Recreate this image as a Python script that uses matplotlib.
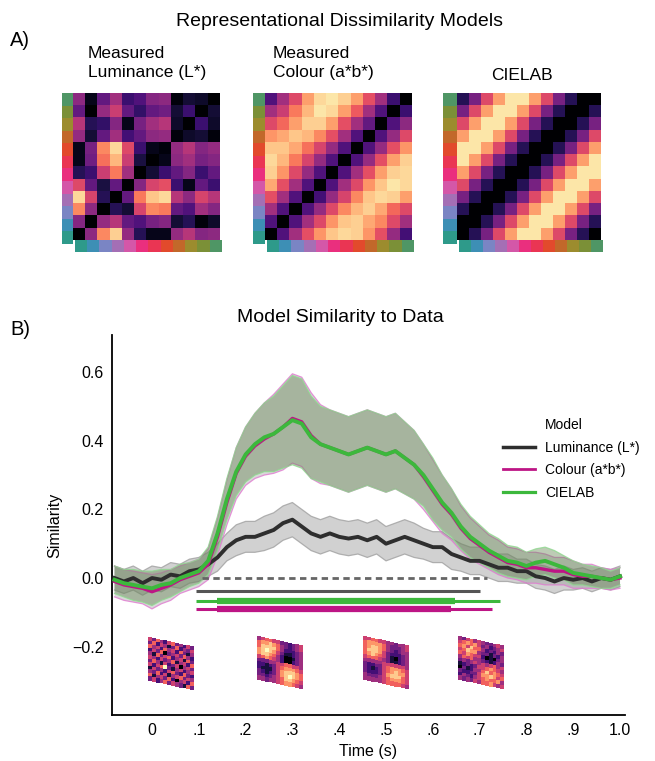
import numpy as np
import matplotlib
matplotlib.use("Agg")
import matplotlib.pyplot as plt
from matplotlib.lines import Line2D
from matplotlib.colors import to_rgb

plt.rcParams['font.family'] = ['Liberation Sans', 'DejaVu Sans']

# ---------------- data ----------------
hue_colors = ['#2e9a8a', '#3d8fb5', '#7a85c4', '#a46fb5', '#d457a8', '#ea2f7e',
              '#ea3553', '#e24a2c', '#c2682a', '#9c8c2e', '#7b9037', '#4f9665']

rdm_luminance = [
    [0.40, 0.05, 0.30, 0.45, 0.20, 0.25, 0.38, 0.40, 0.02, 0.10, 0.08, 0.00],
    [0.30, 0.00, 0.42, 0.55, 0.30, 0.18, 0.30, 0.33, 0.10, 0.20, 0.00, 0.10],
    [0.50, 0.15, 0.18, 0.38, 0.05, 0.35, 0.45, 0.50, 0.08, 0.00, 0.20, 0.08],
    [0.42, 0.10, 0.30, 0.45, 0.22, 0.30, 0.40, 0.42, 0.02, 0.08, 0.10, 0.02],
    [0.05, 0.35, 0.75, 0.92, 0.60, 0.20, 0.05, 0.02, 0.42, 0.50, 0.38, 0.42],
    [0.05, 0.33, 0.70, 0.85, 0.55, 0.12, 0.00, 0.05, 0.40, 0.45, 0.35, 0.38],
    [0.15, 0.20, 0.55, 0.72, 0.45, 0.00, 0.10, 0.20, 0.30, 0.38, 0.20, 0.30],
    [0.60, 0.30, 0.12, 0.30, 0.00, 0.38, 0.58, 0.62, 0.20, 0.05, 0.30, 0.20],
    [0.92, 0.58, 0.15, 0.00, 0.30, 0.72, 0.88, 0.92, 0.50, 0.40, 0.58, 0.50],
    [0.75, 0.40, 0.00, 0.15, 0.10, 0.58, 0.75, 0.72, 0.30, 0.25, 0.45, 0.38],
    [0.38, 0.00, 0.42, 0.50, 0.30, 0.25, 0.35, 0.38, 0.10, 0.15, 0.02, 0.08],
    [0.00, 0.40, 0.75, 0.90, 0.42, 0.15, 0.05, 0.05, 0.42, 0.50, 0.38, 0.40],
]

rdm_colour = [
    [0.25, 0.45, 0.60, 0.80, 0.92, 0.95, 0.90, 0.80, 0.62, 0.45, 0.20, 0.00],
    [0.45, 0.55, 0.72, 0.85, 0.95, 0.92, 0.80, 0.65, 0.45, 0.25, 0.00, 0.20],
    [0.60, 0.68, 0.80, 0.90, 0.90, 0.80, 0.62, 0.45, 0.30, 0.00, 0.25, 0.40],
    [0.78, 0.82, 0.88, 0.85, 0.75, 0.62, 0.45, 0.25, 0.00, 0.25, 0.42, 0.60],
    [0.88, 0.88, 0.82, 0.70, 0.58, 0.42, 0.25, 0.00, 0.25, 0.42, 0.62, 0.78],
    [0.92, 0.85, 0.72, 0.58, 0.42, 0.25, 0.00, 0.25, 0.42, 0.62, 0.80, 0.90],
    [0.90, 0.78, 0.60, 0.42, 0.25, 0.00, 0.25, 0.45, 0.62, 0.80, 0.90, 0.92],
    [0.82, 0.62, 0.45, 0.25, 0.00, 0.25, 0.45, 0.60, 0.78, 0.88, 0.95, 0.92],
    [0.62, 0.45, 0.25, 0.00, 0.22, 0.42, 0.58, 0.75, 0.88, 0.92, 0.90, 0.80],
    [0.45, 0.25, 0.00, 0.25, 0.42, 0.60, 0.75, 0.85, 0.90, 0.82, 0.68, 0.60],
    [0.25, 0.00, 0.25, 0.45, 0.60, 0.78, 0.88, 0.90, 0.82, 0.75, 0.60, 0.45],
    [0.00, 0.25, 0.45, 0.62, 0.78, 0.88, 0.92, 0.90, 0.78, 0.62, 0.42, 0.22],
]

rdm_cielab = [
    [0.15, 0.35, 0.60, 0.80, 0.95, 0.95, 0.80, 0.60, 0.35, 0.15, 0.00, 0.00],
    [0.35, 0.60, 0.80, 0.95, 0.95, 0.80, 0.60, 0.35, 0.15, 0.00, 0.00, 0.15],
    [0.60, 0.80, 0.95, 0.95, 0.80, 0.60, 0.35, 0.15, 0.00, 0.00, 0.15, 0.35],
    [0.80, 0.95, 0.95, 0.80, 0.60, 0.35, 0.15, 0.00, 0.00, 0.15, 0.35, 0.60],
    [0.95, 0.95, 0.80, 0.60, 0.35, 0.15, 0.00, 0.00, 0.15, 0.35, 0.60, 0.80],
    [0.95, 0.80, 0.60, 0.35, 0.15, 0.00, 0.00, 0.15, 0.35, 0.60, 0.80, 0.95],
    [0.80, 0.60, 0.35, 0.15, 0.00, 0.00, 0.15, 0.35, 0.60, 0.80, 0.95, 0.95],
    [0.60, 0.35, 0.15, 0.00, 0.00, 0.15, 0.35, 0.60, 0.80, 0.95, 0.95, 0.80],
    [0.35, 0.15, 0.00, 0.00, 0.15, 0.35, 0.60, 0.80, 0.95, 0.95, 0.80, 0.60],
    [0.15, 0.00, 0.00, 0.15, 0.35, 0.60, 0.80, 0.95, 0.95, 0.80, 0.60, 0.35],
    [0.00, 0.00, 0.15, 0.35, 0.60, 0.80, 0.95, 0.95, 0.80, 0.60, 0.35, 0.15],
    [0.00, 0.15, 0.35, 0.60, 0.80, 0.95, 0.95, 0.80, 0.60, 0.35, 0.15, 0.00],
]

rdm_titles = ['Measured\nLuminance (L*)', 'Measured\nColour (a*b*)', 'CIELAB']

times = [-0.08, -0.06, -0.04, -0.02, 0.00, 0.02, 0.04, 0.06, 0.08, 0.10,
         0.12, 0.14, 0.16, 0.18, 0.20, 0.22, 0.24, 0.26, 0.28, 0.30,
         0.32, 0.34, 0.36, 0.38, 0.40, 0.42, 0.44, 0.46, 0.48, 0.50,
         0.52, 0.54, 0.56, 0.58, 0.60, 0.62, 0.64, 0.66, 0.68, 0.70,
         0.72, 0.74, 0.76, 0.78, 0.80, 0.82, 0.84, 0.86, 0.88, 0.90,
         0.92, 0.94, 0.96, 0.98, 1.00]

sim_luminance = [0.000, -0.010, 0.000, -0.015, 0.000, -0.005, 0.010, 0.005, 0.020, 0.025,
                 0.040, 0.060, 0.090, 0.110, 0.120, 0.120, 0.130, 0.140, 0.160, 0.170,
                 0.150, 0.130, 0.120, 0.130, 0.120, 0.115, 0.120, 0.110, 0.120, 0.100,
                 0.110, 0.120, 0.110, 0.100, 0.090, 0.090, 0.070, 0.060, 0.050, 0.050,
                 0.040, 0.030, 0.030, 0.020, 0.020, 0.005, 0.000, -0.010, 0.000, -0.005,
                 0.000, -0.010, 0.000, -0.005, 0.005]
sem_luminance = [0.035, 0.035, 0.035, 0.035, 0.035, 0.035, 0.035, 0.035, 0.035, 0.035,
                 0.035, 0.040, 0.040, 0.045, 0.045, 0.045, 0.050, 0.050, 0.050, 0.050,
                 0.050, 0.050, 0.050, 0.050, 0.050, 0.050, 0.050, 0.050, 0.050, 0.050,
                 0.050, 0.050, 0.050, 0.045, 0.045, 0.045, 0.045, 0.040, 0.040, 0.040,
                 0.040, 0.040, 0.040, 0.035, 0.035, 0.035, 0.035, 0.035, 0.035, 0.030,
                 0.030, 0.030, 0.030, 0.030, 0.030]

sim_colour = [-0.010, -0.020, -0.025, -0.030, -0.040, -0.030, -0.020, -0.005, 0.005, 0.015,
              0.040, 0.120, 0.220, 0.305, 0.355, 0.385, 0.405, 0.420, 0.440, 0.465,
              0.455, 0.415, 0.390, 0.380, 0.370, 0.360, 0.370, 0.380, 0.370, 0.360,
              0.370, 0.350, 0.330, 0.295, 0.255, 0.215, 0.185, 0.145, 0.115, 0.095,
              0.075, 0.060, 0.045, 0.040, 0.030, 0.030, 0.025, 0.020, 0.020, 0.010,
              0.005, 0.005, 0.000, -0.005, 0.000]
sem_colour = [0.045, 0.045, 0.045, 0.045, 0.050, 0.045, 0.045, 0.040, 0.040, 0.040,
              0.045, 0.055, 0.065, 0.075, 0.085, 0.095, 0.105, 0.115, 0.125, 0.130,
              0.130, 0.125, 0.115, 0.110, 0.110, 0.110, 0.110, 0.110, 0.110, 0.110,
              0.110, 0.105, 0.100, 0.095, 0.090, 0.085, 0.075, 0.065, 0.060, 0.055,
              0.050, 0.050, 0.045, 0.045, 0.045, 0.045, 0.045, 0.040, 0.040, 0.040,
              0.035, 0.035, 0.030, 0.030, 0.030]

sim_cielab = [-0.005, -0.015, -0.020, -0.025, -0.030, -0.020, -0.015, 0.000, 0.010, 0.020,
              0.050, 0.130, 0.230, 0.310, 0.360, 0.390, 0.410, 0.420, 0.440, 0.460,
              0.450, 0.410, 0.390, 0.380, 0.370, 0.360, 0.370, 0.380, 0.370, 0.360,
              0.370, 0.350, 0.330, 0.300, 0.260, 0.220, 0.190, 0.150, 0.120, 0.100,
              0.080, 0.065, 0.050, 0.045, 0.035, 0.045, 0.050, 0.040, 0.030, 0.015,
              0.010, 0.005, 0.000, -0.005, 0.005]
sem_cielab = [0.040, 0.040, 0.045, 0.045, 0.050, 0.045, 0.040, 0.040, 0.035, 0.035,
              0.040, 0.050, 0.060, 0.070, 0.080, 0.090, 0.100, 0.110, 0.120, 0.130,
              0.130, 0.120, 0.110, 0.110, 0.110, 0.110, 0.110, 0.110, 0.110, 0.110,
              0.110, 0.105, 0.100, 0.090, 0.090, 0.080, 0.070, 0.065, 0.060, 0.055,
              0.050, 0.050, 0.045, 0.045, 0.040, 0.040, 0.040, 0.040, 0.035, 0.035,
              0.030, 0.030, 0.030, 0.025, 0.025]

model_names = ['Luminance (L*)', 'Colour (a*b*)', 'CIELAB']
model_colors = ['#2e2e2e', '#bd1585', '#3cb83c']

# significance per model (Luminance, Colour, CIELAB)
sig_level = [-0.038, -0.090, -0.067]
sig_thin_start = [0.094, 0.094, 0.094]
sig_thin_end = [0.700, 0.726, 0.744]
sig_thick_start = [None, 0.139, 0.139]
sig_thick_end = [None, 0.638, 0.647]
chance_start, chance_end = 0.107, 0.716

x_ticks = [0.0, 0.1, 0.2, 0.3, 0.4, 0.5, 0.6, 0.7, 0.8, 0.9, 1.0]
x_ticklabels = ['0', '.1', '.2', '.3', '.4', '.5', '.6', '.7', '.8', '.9', '1.0']
y_ticks = [-0.2, 0.0, 0.2, 0.4, 0.6]
y_ticklabels = ['\u22120.2', '0.0', '0.2', '0.4', '0.6']

snap_1 = [
    [5, 3, 6, 4, 2, 5, 6, 3, 4, 2, 5, 3],
    [3, 6, 2, 5, 4, 1, 3, 6, 2, 4, 3, 5],
    [6, 4, 5, 2, 6, 4, 5, 2, 6, 3, 1, 4],
    [2, 5, 3, 6, 0, 3, 4, 5, 3, 6, 4, 2],
    [4, 1, 6, 3, 5, 6, 2, 4, 5, 1, 6, 3],
    [5, 4, 2, 5, 3, 4, 6, 1, 4, 5, 2, 6],
    [3, 6, 4, 1, 5, 2, 3, 5, 0, 4, 5, 3],
    [5, 2, 5, 6, 9, 3, 1, 4, 5, 2, 4, 5],
    [1, 5, 3, 4, 2, 5, 6, 3, 2, 6, 3, 2],
    [4, 3, 6, 2, 5, 1, 4, 5, 6, 3, 5, 4],
    [6, 1, 4, 5, 3, 6, 2, 0, 4, 5, 2, 6],
    [3, 5, 2, 4, 6, 3, 5, 4, 3, 1, 6, 3]]
snap_2 = [
    [4, 5, 6, 6, 5, 5, 3, 3, 2, 3, 4, 5],
    [6, 7, 7, 8, 7, 6, 4, 3, 2, 3, 4, 5],
    [6, 8, 8, 8, 8, 6, 4, 2, 2, 2, 3, 4],
    [7, 8, 9, 8, 7, 5, 3, 1, 1, 2, 3, 4],
    [7, 8, 8, 7, 6, 4, 2, 0, 0, 1, 3, 4],
    [5, 6, 7, 6, 5, 4, 2, 0, 0, 2, 3, 4],
    [3, 3, 3, 4, 4, 5, 5, 6, 6, 5, 5, 4],
    [2, 2, 1, 2, 3, 5, 6, 7, 7, 7, 6, 5],
    [2, 1, 1, 1, 3, 5, 7, 8, 8, 8, 7, 6],
    [3, 2, 1, 2, 3, 5, 7, 8, 9, 8, 7, 6],
    [3, 3, 2, 3, 4, 5, 6, 8, 8, 7, 6, 5],
    [4, 4, 3, 4, 4, 5, 6, 7, 7, 6, 5, 4]]
snap_3 = [
    [5, 5, 6, 6, 5, 5, 4, 4, 3, 4, 4, 5],
    [6, 7, 7, 7, 7, 6, 4, 3, 3, 3, 4, 5],
    [6, 7, 8, 8, 7, 6, 4, 3, 2, 3, 4, 4],
    [6, 8, 8, 8, 7, 5, 3, 2, 2, 2, 3, 4],
    [6, 7, 8, 7, 6, 5, 3, 1, 0, 2, 3, 4],
    [5, 6, 6, 6, 5, 4, 3, 1, 1, 2, 3, 4],
    [4, 4, 4, 4, 4, 5, 5, 5, 5, 5, 5, 4],
    [3, 2, 2, 3, 3, 5, 6, 7, 7, 7, 6, 5],
    [3, 2, 1, 2, 3, 5, 6, 7, 8, 7, 7, 5],
    [3, 2, 2, 2, 3, 5, 7, 8, 8, 8, 6, 5],
    [4, 3, 3, 3, 4, 5, 6, 7, 7, 7, 6, 5],
    [4, 4, 4, 4, 4, 5, 6, 6, 6, 6, 5, 4]]
snap_4 = [
    [4, 3, 5, 6, 4, 5, 4, 3, 3, 4, 5, 4],
    [5, 6, 7, 6, 7, 5, 3, 4, 2, 3, 4, 5],
    [6, 7, 5, 8, 6, 6, 4, 2, 3, 2, 4, 3],
    [5, 6, 8, 7, 7, 4, 3, 3, 1, 3, 2, 4],
    [6, 5, 7, 6, 5, 5, 2, 0, 1, 0, 3, 4],
    [4, 6, 5, 6, 4, 4, 3, 2, 1, 2, 4, 3],
    [3, 4, 3, 4, 5, 4, 5, 4, 5, 6, 4, 5],
    [1, 2, 3, 2, 3, 5, 5, 6, 7, 6, 5, 4],
    [0, 3, 1, 2, 4, 4, 6, 8, 6, 7, 6, 5],
    [3, 2, 2, 3, 3, 5, 7, 7, 8, 7, 5, 6],
    [2, 4, 3, 2, 4, 5, 6, 7, 6, 6, 7, 4],
    [4, 3, 4, 3, 5, 4, 6, 6, 7, 5, 4, 5]]

# ---------------- figure ----------------
W, H = 655, 761
fig = plt.figure(figsize=(W / 100, H / 100), dpi=100)

def fx(x):
    return x / W

def fy(y):
    return 1 - y / H

# main plot axes (pixel layout)
ax_l, ax_r, ax_t, ax_b = 112.2, 624.7, 335, 715
ax = fig.add_axes([fx(ax_l), fy(ax_b), (ax_r - ax_l) / W, (ax_b - ax_t) / H])
ax.set_xlim(-0.085, 1.01)
ax.set_ylim(-0.399, 0.708)

t = np.array(times)
series = [(np.array(sim_luminance), np.array(sem_luminance)),
          (np.array(sim_colour), np.array(sem_colour)),
          (np.array(sim_cielab), np.array(sem_cielab))]
band_face = ['#9a9a9a', '#909090', '#62844f']
band_alpha = [0.45, 0.35, 0.42]
band_edge = ['#a0a0a0', '#e07ad0', '#8fd88f']

for i, (m, s) in enumerate(series):
    ax.fill_between(t, m - s, m + s, facecolor=band_face[i], alpha=band_alpha[i],
                    edgecolor='none', zorder=1 + i)
    ax.plot(t, m - s, color=band_edge[i], lw=0.9, alpha=0.8, zorder=1 + i)
    ax.plot(t, m + s, color=band_edge[i], lw=0.9, alpha=0.8, zorder=1 + i)
for i, (m, s) in enumerate(series):
    ax.plot(t, m, color=model_colors[i], lw=[2.8, 2.4, 2.8][i], zorder=5 + i)

# chance line
ax.plot([chance_start, chance_end], [0, 0], color='#666666', lw=2.0,
        dashes=(2.3, 1.6), zorder=4)

# significance bars
for i in range(3):
    ax.plot([sig_thin_start[i], sig_thin_end[i]], [sig_level[i]] * 2,
            color=model_colors[i] if i else '#555555', lw=2.2,
            solid_capstyle='butt', zorder=8)
    if sig_thick_start[i] is not None:
        ax.plot([sig_thick_start[i], sig_thick_end[i]], [sig_level[i]] * 2,
                color=model_colors[i], lw=4.5, solid_capstyle='butt', zorder=8)

for sp in ['top', 'right']:
    ax.spines[sp].set_visible(False)
for sp in ['left', 'bottom']:
    ax.spines[sp].set_linewidth(1.3)
ax.set_xticks(x_ticks)
ax.set_xticklabels(x_ticklabels)
ax.set_yticks(y_ticks)
ax.set_yticklabels(y_ticklabels)
ax.tick_params(length=0, labelsize=11.5, pad=6)
ax.set_xlabel('Time (s)', fontsize=11.5, labelpad=4)
ax.set_ylabel('Similarity', fontsize=11.5, labelpad=7)

handles = [Line2D([], [], color='none')] + \
          [Line2D([], [], color=c, lw=lw) for c, lw in zip(model_colors, [2.5, 2.0, 2.3])]
labels = ['Model'] + model_names
leg = ax.legend(handles, labels, loc='upper left',
                bbox_to_anchor=(fx(503), fy(418)), bbox_transform=fig.transFigure,
                frameon=False, fontsize=10, handlelength=2.3, handletextpad=0.75,
                labelspacing=0.62, borderaxespad=0, borderpad=0)

# overlay axes in pixel coordinates for RDM images
ov = fig.add_axes([0, 0, 1, 1], zorder=5)
ov.patch.set_alpha(0)

mats = [rdm_luminance, rdm_colour, rdm_cielab]
mat_x = [(73, 220), (265, 412), (457, 601)]
strip_x = [(62, 73), (253, 265), (443, 457)]
mat_top, mat_bot = 93, 240
strip_rgb = np.array([to_rgb(c) for c in hue_colors])
for k in range(3):
    x0, x1 = mat_x[k]
    ov.imshow(np.array(mats[k]), cmap='magma', vmin=0, vmax=1,
              extent=(x0, x1, mat_bot, mat_top), interpolation='nearest', aspect='auto')
    s0, s1 = strip_x[k]
    ov.imshow(strip_rgb[::-1][:, None, :], extent=(s0, s1, 244, mat_top),
              interpolation='nearest', aspect='auto')
    ov.imshow(strip_rgb[None, :, :], extent=(x0 + 2, x1 + 2, 252, mat_bot),
              interpolation='nearest', aspect='auto')

# skewed snapshot RDMs
snaps = [snap_1, snap_2, snap_3, snap_4]
snap_pos = [(148, 637), (257, 636), (363, 636), (458, 636)]
sw, sh, sk = 46, 43, 10
ii = np.arange(13)
for k in range(4):
    x0, y0 = snap_pos[k]
    X = np.tile(x0 + ii * sw / 12, (13, 1))
    Y = y0 + ii[:, None] * sh / 12 + ii[None, :] * sk / 12
    ov.pcolormesh(X, Y, np.array(snaps[k]), cmap='magma', vmin=0, vmax=9,
                  shading='flat', edgecolors='none')

ov.set_xlim(0, W)
ov.set_ylim(H, 0)
ov.axis('off')

# texts
fig.text(fx(340), fy(22), 'Representational Dissimilarity Models', ha='center', va='center', fontsize=14)
fig.text(fx(10), fy(40), 'A)', ha='left', va='center', fontsize=14.5)
fig.text(fx(88), fy(63), rdm_titles[0], ha='left', va='center', fontsize=12.5, linespacing=1.3)
fig.text(fx(273), fy(63), rdm_titles[1], ha='left', va='center', fontsize=12.5, linespacing=1.3)
fig.text(fx(522), fy(75), rdm_titles[2], ha='center', va='center', fontsize=12.5)
fig.text(fx(340), fy(318), 'Model Similarity to Data', ha='center', va='center', fontsize=14)
fig.text(fx(10), fy(330), 'B)', ha='left', va='center', fontsize=14.5)

fig.savefig('out.png', dpi=100)
